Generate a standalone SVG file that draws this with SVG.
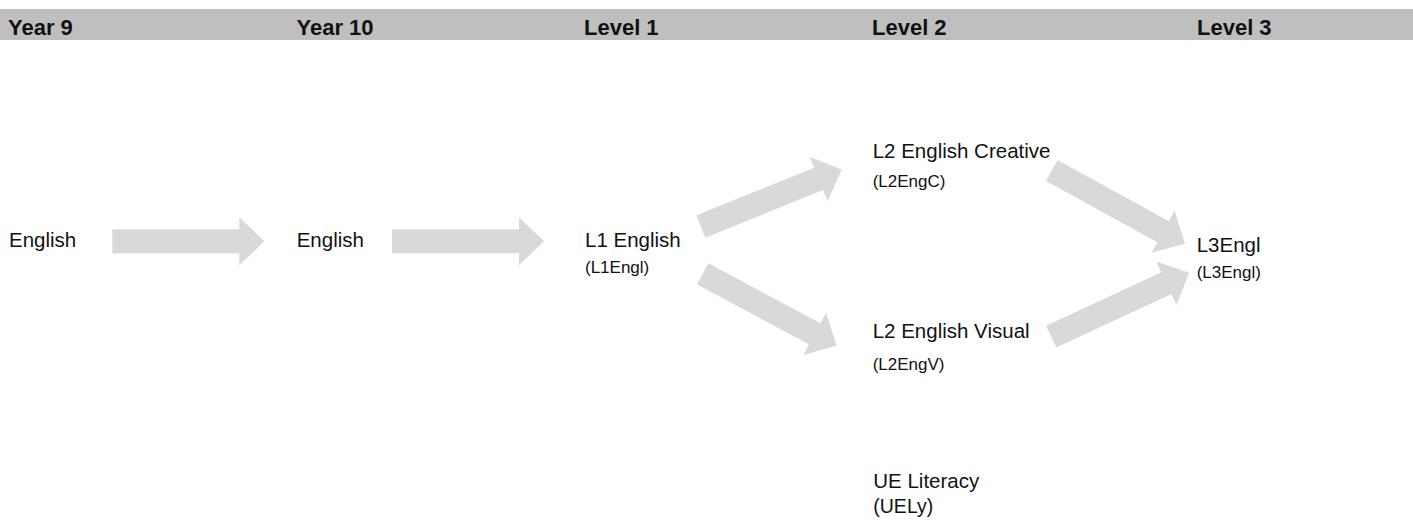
<svg xmlns="http://www.w3.org/2000/svg" xmlns:xlink="http://www.w3.org/1999/xlink" width="1413" height="525" viewBox="0 0 1413 525">
<style>
.hdr{font-family:"Liberation Sans",Arial,sans-serif;font-weight:bold;font-size:22px;fill:#111}
.lbl{font-family:"Liberation Sans",Arial,sans-serif;font-size:20.5px;fill:#111}
.sub{font-family:"Liberation Sans",Arial,sans-serif;font-size:17px;fill:#111}
.sub2{font-family:"Liberation Sans",Arial,sans-serif;font-size:19.5px;fill:#111}
.arr{fill:#d9d9d9}
</style>
<defs>
<path id="arrow" d="M0,-12 H127 V-24 L152,0 L127,24 V12 H0 Z"/>
</defs>
<rect x="0" y="9" width="1413" height="31" fill="#bfbfbf"/>
<g id="headers">
<text class="hdr" x="8" y="35">Year 9</text>
<text class="hdr" x="296.5" y="35">Year 10</text>
<text class="hdr" x="584" y="35">Level 1</text>
<text class="hdr" x="872" y="35">Level 2</text>
<text class="hdr" x="1197" y="35">Level 3</text>
</g>
<g id="connectors" class="arr">
<use xlink:href="#arrow" href="#arrow" transform="translate(112.3,241.3)"/>
<use xlink:href="#arrow" href="#arrow" transform="translate(392,241.3)"/>
<use xlink:href="#arrow" href="#arrow" transform="translate(700.8,226.5) rotate(-22)"/>
<use xlink:href="#arrow" href="#arrow" transform="translate(702.8,273.8) rotate(28.2)"/>
<use xlink:href="#arrow" href="#arrow" transform="translate(1051.8,170.5) rotate(28.8)"/>
<use xlink:href="#arrow" href="#arrow" transform="translate(1051.2,336.7) rotate(-24.9)"/>
</g>
<g id="y9-english"><text class="lbl" x="9" y="247.3">English</text></g>
<g id="y10-english"><text class="lbl" x="296.7" y="247.3">English</text></g>
<g id="l1-english">
<text class="lbl" x="585" y="247.3">L1 English</text>
<text class="sub" x="585" y="273">(L1Engl)</text>
</g>
<g id="l2-creative">
<text class="lbl" x="872.7" y="158.3">L2 English Creative</text>
<text class="sub" x="872.7" y="187.3">(L2EngC)</text>
</g>
<g id="l2-visual">
<text class="lbl" x="872.7" y="338.3">L2 English Visual</text>
<text class="sub" x="872.7" y="370">(L2EngV)</text>
</g>
<g id="l3-engl">
<text class="lbl" x="1196.7" y="251.7">L3Engl</text>
<text class="sub" x="1196.7" y="278.3">(L3Engl)</text>
</g>
<g id="ue-literacy">
<text class="lbl" x="873.3" y="488.3">UE Literacy</text>
<text class="sub2" x="873.3" y="513">(UELy)</text>
</g>
</svg>
